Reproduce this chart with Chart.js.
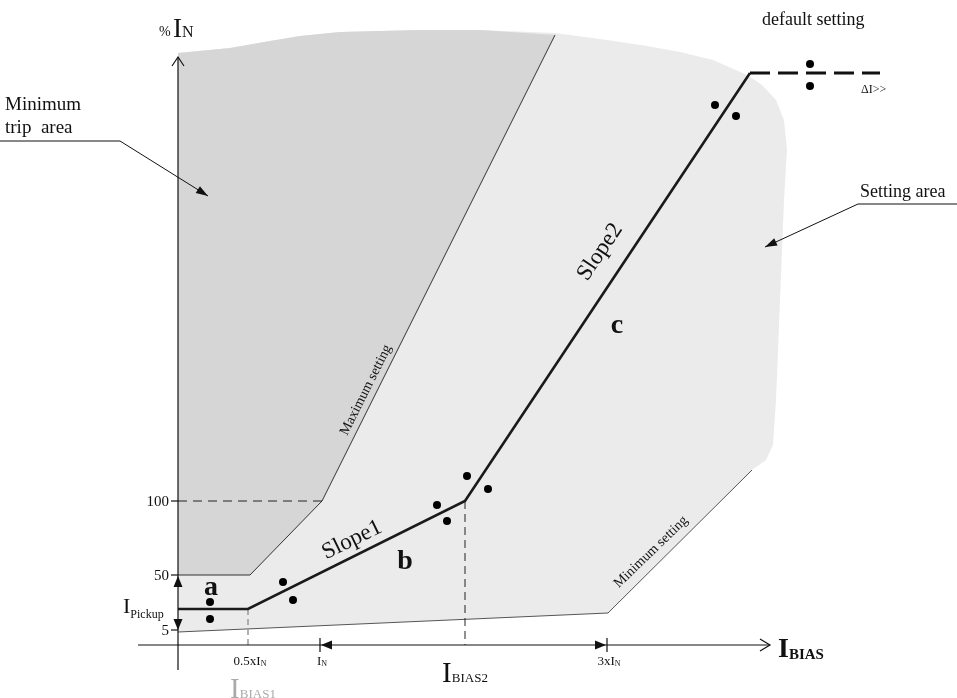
<!DOCTYPE html>
<html>
<head>
<meta charset="utf-8">
<script src="https://cdn.jsdelivr.net/npm/chart.js@4.4.1/dist/chart.umd.min.js"></script>
<style>
  html, body { margin: 0; padding: 0; background: #fff; }
  #wrap { width: 957px; height: 698px; }
</style>
</head>
<body>
<div id="wrap"><canvas id="diagram" width="957" height="698"></canvas></div>
<script>
// diagram units: x measured right of the %IN axis, y measured up from the IBIAS axis
const settingArea = [[0,13],[430,32],[574,175],[588,185],[595,200],[598,245],[602,345],[606,445],
  [609,495],[606,525],[598,545],[584,560],[569,570],[535,585],[502,593],[469,599],[422,606],
  [377,612],[302,615],[242,615],[162,613],[122,609],[92,604],[52,597],[0,592]];
const tripArea = [[0,70],[72,70],[144,144],[377,610],[302,615],[242,615],[162,613],[122,609],
  [92,604],[52,597],[0,592]];
const maxSettingEdge = [[0,70],[72,70],[144,144],[377,610]];
const minSettingEdge = [[0,13],[430,32],[574,175]];
const characteristic = [[0,36],[70,36],[287,144],[572,572]];
const defaultSetting = [[572,572],[702,572]];
const pickupGuide = [[70,36],[70,0]];
const bias2Guide = [[287,144],[287,0]];
const hundredGuide = [[0,144],[144,144]];
const settingDots = [[32,43],[32,26],[105,63],[115,45],[259,140],[269,124],[289,169],[310,156],
  [537,540],[558,529],[632,581],[632,559]];

const yTickValues = [15, 70, 144];
const yTickLabels = ['5', '50', '100'];
const xTickValues = [70, 142, 429];
const xTickMain = ['0.5xI', 'I', '3xI'];
const xTickSub = ['N', 'N', 'N'];

const pts = a => a.map(([x, y]) => ({x, y}));
const SERIF = '"Liberation Serif", "DejaVu Serif", serif';

function subText(ctx, main, sub, x, y, mainFont, subFont, drop, align, color) {
  ctx.fillStyle = color || '#111';
  ctx.textAlign = 'left';
  ctx.textBaseline = 'alphabetic';
  ctx.font = mainFont;
  const w1 = ctx.measureText(main).width;
  ctx.font = subFont;
  const w2 = ctx.measureText(sub).width;
  const x0 = align === 'center' ? x - (w1 + w2) / 2 : x;
  ctx.font = mainFont;
  ctx.fillText(main, x0, y);
  ctx.font = subFont;
  ctx.fillText(sub, x0 + w1, y + drop);
}

function rotText(ctx, text, x, y, deg, font) {
  ctx.save();
  ctx.translate(x, y);
  ctx.rotate(deg * Math.PI / 180);
  ctx.font = font;
  ctx.fillStyle = '#111';
  ctx.textAlign = 'center';
  ctx.textBaseline = 'middle';
  ctx.fillText(text, 0, 0);
  ctx.restore();
}

function tri(ctx, tx, ty, dir, len, half) {
  ctx.beginPath();
  ctx.moveTo(tx, ty);
  if (dir === 'up') { ctx.lineTo(tx - half, ty + len); ctx.lineTo(tx + half, ty + len); }
  if (dir === 'down') { ctx.lineTo(tx - half, ty - len); ctx.lineTo(tx + half, ty - len); }
  if (dir === 'left') { ctx.lineTo(tx + len, ty - half); ctx.lineTo(tx + len, ty + half); }
  if (dir === 'right') { ctx.lineTo(tx - len, ty - half); ctx.lineTo(tx - len, ty + half); }
  ctx.closePath();
  ctx.fill();
}

function arrowTo(ctx, x1, y1, x2, y2) {
  const a = Math.atan2(y2 - y1, x2 - x1);
  ctx.beginPath();
  ctx.moveTo(x1, y1);
  ctx.lineTo(x2, y2);
  ctx.stroke();
  ctx.beginPath();
  ctx.moveTo(x2, y2);
  ctx.lineTo(x2 - 12 * Math.cos(a) + 4 * Math.sin(a), y2 - 12 * Math.sin(a) - 4 * Math.cos(a));
  ctx.lineTo(x2 - 12 * Math.cos(a) - 4 * Math.sin(a), y2 - 12 * Math.sin(a) + 4 * Math.cos(a));
  ctx.closePath();
  ctx.fill();
}

const overlay = {
  id: 'overlay',
  afterDatasetsDraw(chart) {
    const {ctx, scales: {x, y}} = chart;
    const px = v => x.getPixelForValue(v);
    const py = v => y.getPixelForValue(v);
    ctx.save();
    ctx.strokeStyle = '#111';
    ctx.fillStyle = '#111';
    ctx.lineWidth = 1.2;

    // axes
    ctx.beginPath();
    ctx.moveTo(px(0), py(-25)); ctx.lineTo(px(0), py(588));
    ctx.moveTo(px(-40), py(0)); ctx.lineTo(px(592), py(0));
    ctx.stroke();
    ctx.beginPath();
    ctx.moveTo(px(0) - 6, py(588) + 9); ctx.lineTo(px(0), py(588)); ctx.lineTo(px(0) + 6, py(588) + 9);
    ctx.moveTo(px(592) - 10, py(0) - 6); ctx.lineTo(px(592), py(0)); ctx.lineTo(px(592) - 10, py(0) + 6);
    ctx.stroke();

    // y ticks
    yTickValues.forEach((v, i) => {
      ctx.beginPath();
      ctx.moveTo(px(0) - 7, py(v)); ctx.lineTo(px(0), py(v));
      ctx.stroke();
      ctx.font = '15px ' + SERIF;
      ctx.textAlign = 'right';
      ctx.textBaseline = 'middle';
      ctx.fillText(yTickLabels[i], px(0) - 9, py(v) + 1);
    });
    subText(ctx, 'I', 'Pickup', px(-55), py(32), '22px ' + SERIF, '12px ' + SERIF, 5, 'left');

    // pickup dimension arrows on the y axis
    tri(ctx, px(0), py(69), 'up', 11, 4.5);
    tri(ctx, px(0), py(15), 'down', 11, 4.5);

    // x ticks and dimension arrows between IN and 3xIN
    ctx.beginPath();
    [142, 429].forEach(v => { ctx.moveTo(px(v), py(0) - 7); ctx.lineTo(px(v), py(0) + 7); });
    ctx.stroke();
    tri(ctx, px(143), py(0), 'left', 11, 4.5);
    tri(ctx, px(428), py(0), 'right', 11, 4.5);

    xTickValues.forEach((v, i) => {
      subText(ctx, xTickMain[i], xTickSub[i], px(v) + 2, py(-20), '13px ' + SERIF, '8px ' + SERIF, 1, 'center');
    });
    subText(ctx, 'I', 'BIAS2', px(287), py(-37), '29px ' + SERIF, '13px ' + SERIF, 0, 'center');
    subText(ctx, 'I', 'BIAS1', px(75), py(-53), '29px ' + SERIF, '13px ' + SERIF, 0, 'center', '#aaa');
    subText(ctx, 'I', 'BIAS', px(600), py(-12), 'bold 28px ' + SERIF, 'bold 15px ' + SERIF, 2, 'left');
    ctx.fillStyle = '#111';
    ctx.font = '14px ' + SERIF;
    ctx.textAlign = 'left';
    ctx.fillText('%', px(-19), py(609));
    subText(ctx, 'I', 'N', px(-5), py(608), '27px ' + SERIF, '16px ' + SERIF, 0, 'left');

    // callouts
    ctx.fillStyle = '#111';
    ctx.font = '19px ' + SERIF;
    ctx.textAlign = 'left';
    ctx.textBaseline = 'alphabetic';
    ctx.fillText('Minimum', px(-173), py(535));
    ctx.fillText('trip  area', px(-173), py(512));
    ctx.lineWidth = 1;
    ctx.beginPath();
    ctx.moveTo(px(-178), py(504)); ctx.lineTo(px(-58), py(504));
    ctx.stroke();
    arrowTo(ctx, px(-58), py(504), px(30), py(449));

    ctx.font = '18px ' + SERIF;
    ctx.fillText('Setting area', px(682), py(448));
    ctx.beginPath();
    ctx.moveTo(px(680), py(441)); ctx.lineTo(px(779), py(441));
    ctx.stroke();
    arrowTo(ctx, px(680), py(441), px(587), py(398));

    ctx.fillText('default setting', px(584), py(620));
    ctx.font = '12px ' + SERIF;
    ctx.fillText('\u0394I>>', px(683), py(552));

    rotText(ctx, 'Maximum setting', px(188), py(255), -63.4, '14px ' + SERIF);
    rotText(ctx, 'Minimum setting', px(473), py(93), -44, '14px ' + SERIF);
    rotText(ctx, 'Slope1', px(174), py(105), -26, '23px ' + SERIF);
    rotText(ctx, 'Slope2', px(422), py(393), -56, '23px ' + SERIF);

    ctx.font = 'bold 28px ' + SERIF;
    ctx.textAlign = 'center';
    ctx.textBaseline = 'middle';
    ctx.fillText('a', px(33), py(57));
    ctx.fillText('b', px(227), py(83));
    ctx.fillText('c', px(439), py(319));
    ctx.restore();
  }
};

const line = (data, color, width, dash, order) => ({
  data: pts(data), showLine: true, fill: false, borderColor: color, borderWidth: width,
  borderDash: dash || [], pointRadius: 0, tension: 0, order
});

new Chart(document.getElementById('diagram'), {
  type: 'scatter',
  data: {
    datasets: [
      { data: pts(settingArea), showLine: true, fill: 'shape', backgroundColor: '#ebebeb',
        borderWidth: 0, pointRadius: 0, order: 20 },
      { data: pts(tripArea), showLine: true, fill: 'shape', backgroundColor: '#d6d6d6',
        borderWidth: 0, pointRadius: 0, order: 19 },
      line(maxSettingEdge, '#333', 1, null, 10),
      line(minSettingEdge, '#555', 1, null, 10),
      line(hundredGuide, '#222', 1, [9, 6], 9),
      line(bias2Guide, '#222', 1, [8, 5], 9),
      line(pickupGuide, '#999', 1.5, [6, 4], 9),
      line(characteristic, '#1a1a1a', 2.6, null, 5),
      line(defaultSetting, '#111', 3.2, [20, 8], 5),
      { data: pts(settingDots), pointRadius: 4, pointBackgroundColor: '#000', pointBorderWidth: 0, order: 1 }
    ]
  },
  options: {
    responsive: false,
    animation: false,
    layout: { padding: 0, autoPadding: false },
    scales: {
      x: { type: 'linear', min: -178, max: 779, display: false },
      y: { type: 'linear', min: -53, max: 645, display: false }
    },
    plugins: {
      legend: { display: false },
      tooltip: { enabled: false }
    }
  },
  plugins: [overlay]
});
</script>
</body>
</html>
